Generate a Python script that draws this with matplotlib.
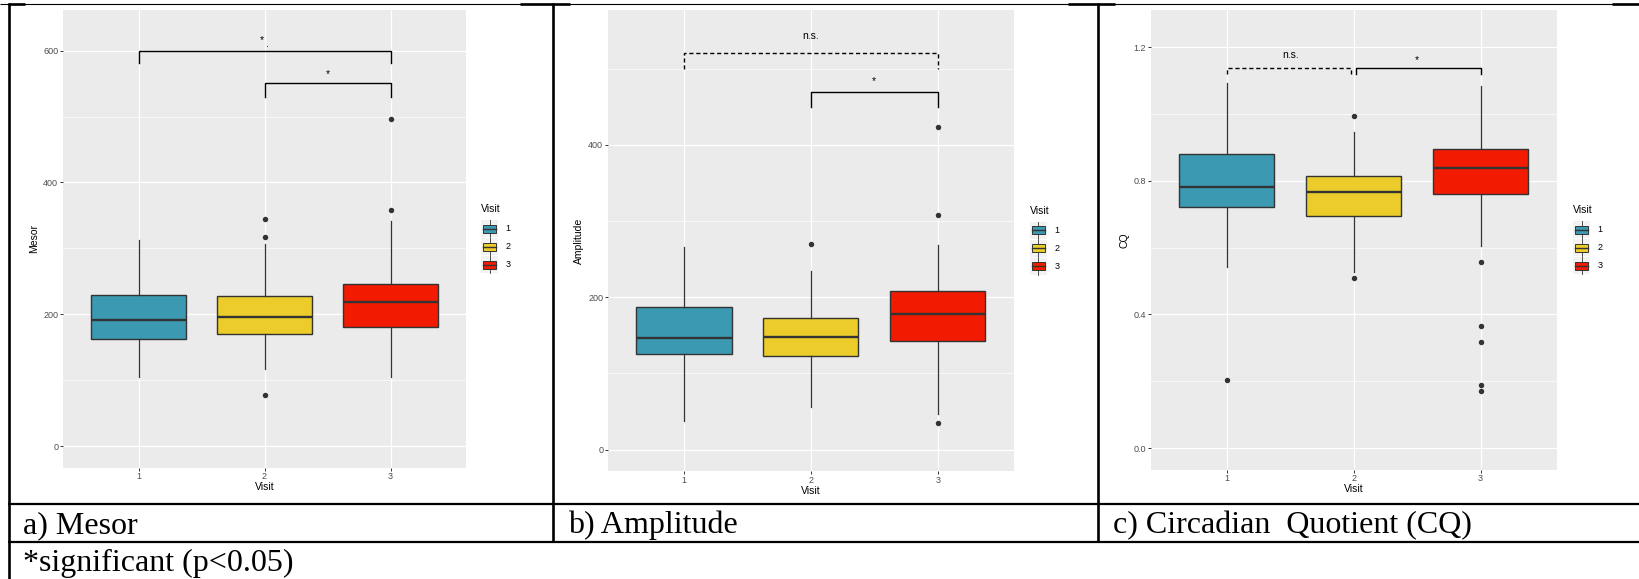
import matplotlib
matplotlib.use("Agg")
import matplotlib.pyplot as plt
from matplotlib.lines import Line2D
from matplotlib.patches import Rectangle, Patch
from matplotlib.legend_handler import HandlerBase
from matplotlib.ticker import MultipleLocator

# ---------------- data ----------------
visits = [1, 2, 3]
visit_labels = ["1", "2", "3"]
colors = ["#3B9AB2", "#EBCC2A", "#F21A00"]

mesor_q1 = [162.5, 169.6, 180.7]
mesor_med = [191.0, 195.4, 218.7]
mesor_q3 = [229.0, 227.0, 246.0]
mesor_lo = [105.0, 116.5, 104.3]
mesor_hi = [313.0, 306.0, 342.0]
mesor_out = [[], [344.7, 317.8, 78.0], [496.0, 358.9]]

amp_q1 = [125.6, 123.0, 142.2]
amp_med = [146.6, 147.5, 178.5]
amp_q3 = [187.7, 172.4, 208.3]
amp_lo = [38.0, 56.3, 46.3]
amp_hi = [265.7, 234.0, 268.7]
amp_out = [[], [270.4], [424.0, 307.7, 34.7]]

cq_q1 = [0.721, 0.696, 0.762]
cq_med = [0.782, 0.767, 0.840]
cq_q3 = [0.881, 0.815, 0.895]
cq_lo = [0.543, 0.528, 0.605]
cq_hi = [1.093, 0.947, 1.085]
cq_out = [[0.205], [0.995, 0.510], [0.5575, 0.366, 0.319, 0.189, 0.170]]

# significance brackets: (x1, x2, bar_y, tip_y, label, label_x, label_baseline_y, dashed)
mesor_sig = [(1, 3, 600.0, 580.8, "*", 1.98, 611.4, False),
             (2, 3, 550.7, 530.4, "*", 2.5, 560.7, False)]
mesor_extra = [(".", 2.026, 605.6)]
amp_sig = [(1, 3, 520.4, 499.8, "n.s.", 2.0, 538.7, True),
           (2, 3, 470.0, 450.0, "*", 2.5, 480.6, False)]
cq_sig = [(1, 1.98, 1.139, 1.120, "n.s.", 1.5, 1.1675, True),
          (2.02, 3, 1.139, 1.120, "*", 2.5, 1.1528, False)]

y_titles = ["Mesor", "Amplitude", "CQ"]
captions = ["a) Mesor", "b) Amplitude", "c) Circadian  Quotient (CQ)"]
footnote = "*significant (p<0.05)"

# ---------------- layout ----------------
W, H = 1639, 579
fig = plt.figure(figsize=(W / 100, H / 100), dpi=100)
fig.patch.set_facecolor("white")


def fx(px):
    return px / W


def fy(py):
    return 1 - py / H


panels = [
    dict(l=62.9, r=466.1, t=10, b=467.7, ylim=(-32.9, 661.8), major=200, minor=100,
         fmt="{:.0f}", lab_x=-0.0717, title_off=19.3,
         data=(mesor_q1, mesor_med, mesor_q3, mesor_lo, mesor_hi, mesor_out),
         sig=mesor_sig, extra=mesor_extra, leg_x=1.037),
    dict(l=607.9, r=1013.9, t=10, b=471.0, ylim=(-28.0, 577.2), major=200, minor=100,
         fmt="{:.0f}", lab_x=-0.071, title_off=20,
         data=(amp_q1, amp_med, amp_q3, amp_lo, amp_hi, amp_out),
         sig=amp_sig, extra=[], leg_x=1.0387),
    dict(l=1150.5, r=1556.8, t=10, b=469.7, ylim=(-0.065, 1.312), major=0.4, minor=0.2,
         fmt="{:.1f}", lab_x=-0.064, title_off=19.6,
         data=(cq_q1, cq_med, cq_q3, cq_lo, cq_hi, cq_out),
         sig=cq_sig, extra=[], leg_x=1.04),
]

FONT = "Liberation Sans"
EDGE = "#333333"


class BoxKeyHandler(HandlerBase):
    def __init__(self, color):
        super().__init__()
        self.color = color

    def create_artists(self, legend, orig_handle, xdescent, ydescent, width, height,
                       fontsize, trans):
        x0, y0 = -xdescent, -ydescent
        bg = Rectangle((x0, y0), width, height, facecolor="#F2F2F2", edgecolor="none",
                       transform=trans)
        cx = x0 + width / 2
        wl = Line2D([cx, cx], [y0, y0 + height], color=EDGE, lw=0.6, transform=trans)
        bx = Rectangle((x0 + width * 0.12, y0 + height * 0.27), width * 0.76, height * 0.46,
                       facecolor=self.color, edgecolor=EDGE, lw=0.7, transform=trans)
        cy = y0 + height / 2
        md = Line2D([x0 + width * 0.12, x0 + width * 0.88], [cy, cy], color=EDGE, lw=1.0,
                    transform=trans)
        return [bg, wl, bx, md]


for i, p in enumerate(panels):
    ax = fig.add_axes([fx(p["l"]), fy(p["b"]), fx(p["r"] - p["l"]), (p["b"] - p["t"]) / H])
    ax.set_facecolor("#EBEBEB")
    for s in ax.spines.values():
        s.set_visible(False)
    ax.set_axisbelow(True)
    ax.set_xlim(0.4, 3.6)
    ax.set_ylim(*p["ylim"])
    ax.set_xticks(visits)
    ax.set_xticklabels(visit_labels)
    ax.yaxis.set_major_locator(MultipleLocator(p["major"]))
    ax.yaxis.set_minor_locator(MultipleLocator(p["minor"]))
    ax.yaxis.set_major_formatter(matplotlib.ticker.FuncFormatter(lambda v, pos, f=p["fmt"]: f.format(v)))
    ax.grid(which="major", color="white", lw=0.9)
    ax.grid(which="minor", axis="y", color="white", lw=0.45)
    ax.tick_params(which="major", length=2.2, width=0.7, color=EDGE, pad=1.2,
                   labelsize=6.5, labelcolor="#4D4D4D")
    ax.tick_params(which="minor", length=0)
    for lab in ax.get_xticklabels() + ax.get_yticklabels():
        lab.set_family(FONT)

    q1, med, q3, lo, hi, out = p["data"]
    stats = [dict(med=med[k], q1=q1[k], q3=q3[k], whislo=lo[k], whishi=hi[k], fliers=out[k])
             for k in range(3)]
    bp = ax.bxp(stats, positions=visits, widths=0.75, patch_artist=True, showcaps=False,
                boxprops=dict(edgecolor=EDGE, linewidth=1.0),
                medianprops=dict(color=EDGE, linewidth=1.7),
                whiskerprops=dict(color=EDGE, linewidth=0.9),
                flierprops=dict(marker="o", markerfacecolor=EDGE, markeredgecolor=EDGE,
                                markersize=2.9, linestyle="none"),
                manage_ticks=False)
    for patch, c in zip(bp["boxes"], colors):
        patch.set_facecolor(c)

    for (x1, x2, yb, yt, lbl, lx, ly, dashed) in p["sig"]:
        ls = (0, (3, 2)) if dashed else "-"
        ax.plot([x1, x1, x2, x2], [yt, yb, yb, yt], color="black", lw=1.0, ls=ls,
                clip_on=False, zorder=5)
        ax.text(lx, ly, lbl, ha="center", va="baseline", fontsize=7.5, family=FONT)
    for (lbl, lx, ly) in p["extra"]:
        ax.text(lx, ly, lbl, ha="center", va="baseline", fontsize=7.5, family=FONT)

    ax.set_ylabel(y_titles[i], fontsize=7.5, family=FONT, color="black")
    ax.yaxis.label.set_va("center")
    ax.yaxis.set_label_coords(p["lab_x"], 0.5)
    ax.set_xlabel("Visit", fontsize=7.5, family=FONT, color="black")
    hpx = p["b"] - p["t"]
    ax.xaxis.label.set_va("center")
    ax.xaxis.set_label_coords(0.5, -p["title_off"] / hpx)

    handles = [Patch(facecolor=c) for c in colors]
    hmap = {h: BoxKeyHandler(c) for h, c in zip(handles, colors)}
    leg = ax.legend(handles, visit_labels, handler_map=hmap, loc="center left",
                    bbox_to_anchor=(p["leg_x"], 0.5), frameon=False, borderpad=0,
                    borderaxespad=0, title="Visit", title_fontsize=7.5,
                    handlelength=1.92, handleheight=2.57, labelspacing=0.08,
                    handletextpad=0.8, alignment="left",
                    prop=dict(family=FONT, size=6.5))
    leg.get_title().set_family(FONT)
    try:
        leg._legend_box.sep = 4.0
    except Exception:
        pass

# ---------------- table lines ----------------
def hline(y, x0, x1, lw):
    fig.add_artist(Line2D([fx(x0), fx(x1)], [fy(y), fy(y)], color="black", lw=lw,
                          solid_capstyle="butt"))


def vline(x, y0, y1, lw):
    fig.add_artist(Line2D([fx(x), fx(x)], [fy(y0), fy(y1)], color="black", lw=lw,
                          solid_capstyle="butt"))


hline(3.6, 0, W, 0.8)
for (a, b) in [(8, 25), (520, 570), (1068, 1115), (1612, W)]:
    hline(4.4, a, b, 1.9)
vline(8.5, 3, H, 1.9)
vline(552.7, 3, 541.7, 1.9)
vline(1097.8, 3, 541.7, 1.9)
hline(504.0, 8, W, 1.6)
hline(541.7, 8, W, 1.6)

# ---------------- captions ----------------
cap_x = [23, 568.2, 1113]
for t, x in zip(captions, cap_x):
    fig.text(fx(x), fy(533.5), t, ha="left", va="baseline", fontsize=23,
             family="Liberation Serif")
fig.text(fx(23), fy(570.5), footnote, ha="left", va="baseline", fontsize=23,
         family="Liberation Serif")

fig.savefig("out.png", dpi=100)
